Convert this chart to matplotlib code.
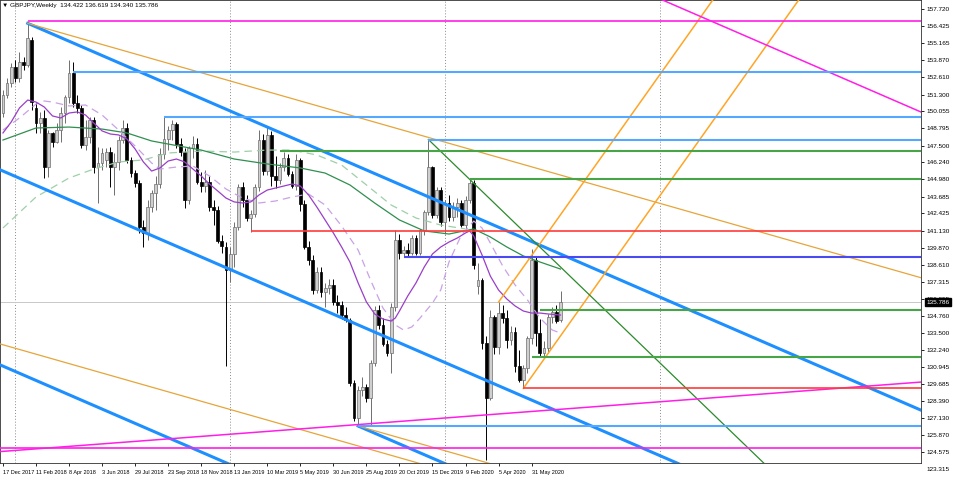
import matplotlib
matplotlib.use('Agg')
import matplotlib.pyplot as plt
from matplotlib.transforms import blended_transform_factory

plt.rcParams['font.family'] = ['Liberation Sans', 'DejaVu Sans']

# GBPJPY weekly candles, week 0 = 17 Dec 2017
opens = [149.92, 151.29, 152.16, 153.41, 152.54, 153.78, 153.53, 155.40, 150.29, 149.17,
         149.55, 145.93, 148.42, 147.80, 148.67, 149.92, 151.16, 152.91, 150.67, 150.29,
         147.55, 148.17, 149.42, 145.93, 146.18, 146.43, 147.05, 145.93, 146.30, 147.92,
         148.80, 146.43, 145.43, 144.68, 141.44, 140.94, 142.93, 143.93, 144.60, 146.90,
         148.00, 148.70, 149.10, 147.60, 147.00, 143.40, 147.30, 147.60, 144.80, 144.50,
         144.80, 142.90, 142.70, 140.40, 139.90, 138.20, 139.40, 141.40, 144.40, 143.40,
         142.10, 142.40, 144.40, 147.90, 145.60, 148.30, 145.20, 144.90, 145.90, 146.60,
         145.40, 144.50, 146.40, 143.10, 139.94, 138.94, 136.70, 138.07, 136.57, 136.82,
         137.07, 135.83, 135.58, 134.83, 134.46, 129.72, 127.10, 129.22, 129.47, 128.60,
         131.21, 135.20, 134.10, 132.70, 132.00, 135.45, 140.44, 139.44, 139.69, 139.44,
         140.56, 139.44, 141.19, 142.56, 145.92, 142.31, 144.18, 141.81, 143.18, 142.18,
         142.93, 143.18, 141.56, 143.43, 144.68, 137.00, 137.45, 132.71, 128.60, 134.70,
         132.46, 134.95, 134.58, 133.00, 133.58, 131.00, 130.00, 130.84, 133.08, 138.94,
         133.50, 131.96, 132.34, 134.70, 135.08, 134.422]
highs = [151.66, 152.54, 153.66, 153.91, 154.53, 154.16, 156.65, 155.65, 150.79, 150.04,
         150.17, 148.67, 148.55, 149.17, 150.42, 151.29, 153.91, 153.78, 151.29, 150.54,
         149.42, 149.67, 149.67, 147.42, 147.30, 147.30, 147.42, 146.92, 148.20, 149.42,
         149.17, 146.68, 145.68, 144.93, 141.94, 143.43, 144.20, 145.20, 147.30, 149.66,
         149.00, 149.40, 149.30, 148.10, 147.30, 147.50, 148.20, 148.10, 145.50, 145.70,
         145.20, 143.40, 143.00, 140.80, 140.30, 139.90, 141.80, 144.60, 144.80, 143.80,
         142.70, 144.60, 148.67, 148.40, 148.87, 148.60, 146.70, 146.20, 147.00, 146.90,
         145.60, 146.90, 146.60, 143.40, 140.40, 139.30, 138.40, 138.40, 137.20, 137.50,
         137.50, 136.30, 135.90, 135.40, 134.60, 130.00, 129.50, 130.20, 129.70, 131.50,
         135.50, 135.60, 134.60, 133.00, 135.70, 141.20, 140.90, 140.00, 140.20, 140.80,
         140.80, 141.30, 142.70, 147.96, 146.00, 144.40, 144.40, 143.40, 143.80, 143.30,
         143.60, 143.40, 143.70, 144.98, 144.90, 138.70, 137.60, 133.30, 135.20, 134.80,
         135.80, 135.60, 135.20, 134.00, 133.90, 132.20, 131.10, 133.30, 139.74, 139.20,
         134.50, 132.90, 134.90, 135.40, 135.60, 136.619]
lows = [149.67, 151.04, 151.91, 152.29, 152.29, 153.16, 153.41, 150.17, 148.42, 148.42,
        145.05, 145.18, 147.42, 147.67, 147.80, 149.17, 150.67, 150.42, 149.92, 147.30,
        147.17, 147.67, 145.43, 143.18, 145.68, 145.93, 144.43, 143.81, 145.68, 147.67,
        146.18, 145.18, 144.43, 140.94, 139.94, 140.44, 142.56, 142.70, 144.30, 146.50,
        147.20, 147.90, 147.30, 146.70, 142.80, 143.10, 146.60, 144.60, 144.00, 144.00,
        142.60, 141.60, 140.20, 139.50, 131.00, 137.30, 138.40, 141.20, 142.90, 141.90,
        141.06, 142.20, 144.10, 145.30, 145.30, 144.50, 144.30, 144.60, 145.60, 145.20,
        144.30, 144.20, 142.60, 139.80, 138.60, 136.40, 136.50, 136.20, 135.45, 136.40,
        135.60, 135.00, 134.50, 134.30, 129.50, 126.90, 126.48, 128.80, 128.30, 126.60,
        131.00, 133.80, 132.50, 131.80, 130.47, 135.10, 139.00, 139.20, 139.25, 139.30,
        139.30, 139.30, 140.80, 142.30, 142.10, 142.10, 141.50, 140.90, 141.90, 141.90,
        142.20, 141.40, 141.30, 143.20, 138.30, 136.40, 132.30, 123.98, 128.50, 131.90,
        131.90, 134.20, 132.40, 132.60, 130.60, 129.80, 129.35, 130.50, 132.70, 132.50,
        131.80, 131.71, 132.00, 134.20, 134.20, 134.340]
closes = [151.29, 152.16, 153.41, 152.54, 153.78, 153.53, 155.53, 150.79, 149.17, 149.55,
          145.93, 148.42, 147.80, 148.67, 149.92, 151.16, 152.91, 150.67, 150.29, 147.55,
          148.17, 149.42, 145.93, 146.18, 146.92, 147.05, 145.93, 146.30, 147.92, 148.80,
          146.43, 145.43, 144.68, 141.44, 140.94, 142.93, 143.93, 144.60, 146.90, 148.00,
          148.70, 149.10, 147.60, 147.00, 143.40, 147.30, 147.60, 144.80, 144.50, 144.80,
          142.90, 142.70, 140.40, 140.00, 138.20, 139.40, 141.40, 144.40, 143.40, 142.10,
          142.40, 144.40, 147.90, 145.60, 148.30, 145.20, 144.90, 145.90, 146.60, 145.40,
          144.50, 146.40, 143.10, 139.94, 138.94, 136.70, 138.07, 136.57, 136.82, 137.07,
          135.83, 135.58, 134.83, 134.46, 129.72, 127.10, 129.22, 129.47, 128.60, 131.21,
          135.20, 134.10, 132.70, 132.00, 135.45, 140.44, 139.44, 139.69, 139.44, 140.56,
          139.44, 141.19, 142.56, 145.92, 142.31, 144.18, 141.81, 143.18, 142.18, 142.93,
          143.18, 141.56, 143.43, 144.68, 138.57, 137.45, 132.71, 128.60, 134.70, 132.46,
          134.95, 134.58, 133.00, 133.58, 131.00, 130.00, 130.84, 133.08, 138.94, 133.50,
          131.96, 132.34, 134.70, 135.08, 134.42, 135.786]

# moving averages (week index -> price)
ma_fast_weeks = [0, 2, 4, 6, 8, 10, 12, 14, 16, 18, 20, 22, 24, 26, 28, 30, 32, 34, 36, 38,
                 40, 42, 44, 46, 48, 50, 52, 54, 56, 58, 60, 62, 64, 66, 68, 70, 72, 74, 76,
                 78, 80, 82, 84, 86, 88, 90, 92, 94, 95, 96, 98, 100, 102, 104, 106, 108,
                 110, 112, 113, 114, 116, 118, 120, 122, 124, 126, 128, 130, 132, 135]
ma_fast = [148.45, 149.27, 150.32, 150.91, 150.76, 150.39, 149.72, 149.57, 149.94, 150.02,
           149.79, 149.19, 148.60, 148.37, 148.30, 148.00, 147.25, 146.28, 145.60, 145.83,
           146.35, 146.50, 146.28, 145.75, 145.23, 144.63, 144.11, 143.58, 143.29, 143.21,
           143.29, 143.81, 144.18, 144.33, 144.48, 144.63, 144.48, 143.81, 142.91, 141.94,
           140.97, 139.92, 138.80, 137.23, 135.81, 134.91, 134.53, 134.38, 134.61, 135.13,
           136.25, 137.23, 138.42, 139.40, 139.92, 140.29, 140.59, 140.97, 141.12, 140.74,
           139.32, 137.75, 136.70, 136.03, 135.51, 135.13, 134.98, 134.98, 134.91, 134.83]
ma_mid_weeks = [0, 4, 8, 10, 12, 16, 20, 24, 28, 32, 36, 38, 42, 46, 50, 54, 58, 62, 66, 70,
                74, 78, 82, 86, 89, 92, 95, 97, 99, 101, 104, 106, 108, 111, 114, 116, 118,
                121, 124, 127, 130, 133, 135]
ma_mid = [148.67, 149.57, 150.61, 150.84, 150.76, 150.47, 150.54, 149.79, 148.67, 147.47,
          146.20, 145.75, 145.90, 145.98, 145.23, 144.26, 143.58, 143.21, 143.36, 143.66,
          143.88, 143.06, 141.49, 139.69, 137.45, 135.36, 134.09, 133.71, 133.94, 134.61,
          135.73, 136.70, 138.80, 140.82, 141.86, 141.34, 140.22, 138.50, 137.08, 135.96,
          134.61, 133.71, 133.49]
ma_slow_weeks = [0, 8, 16, 24, 30, 36, 40, 48, 56, 64, 72, 78, 84, 90, 96, 102, 108, 114,
                 118, 122, 126, 130, 135]
ma_slow = [147.92, 148.82, 148.89, 148.74, 148.45, 147.85, 147.62, 147.17, 146.50, 146.13,
           145.83, 145.45, 144.56, 143.21, 141.94, 141.12, 140.89, 141.27, 140.67, 139.92,
           139.25, 138.80, 138.27]
ma_long_weeks = [0, 8, 16, 22, 28, 34, 40, 48, 56, 64, 70, 76, 82, 88, 94, 100, 106, 112]
ma_long = [141.34, 143.66, 145.08, 145.75, 146.28, 146.43, 146.95, 147.10, 147.02, 147.17,
           147.17, 146.80, 146.05, 144.56, 143.06, 142.09, 141.56, 141.27]

# horizontal levels: price, first week
magenta_levels = [(156.79, 6), (124.85, -1)]
lightblue_levels = [(153.00, 17), (149.67, 39), (147.94, 103), (126.53, 86)]
green_levels = [(147.10, 67), (144.98, 113), (135.20, 130), (131.71, 128)]
red_levels = [(141.13, 60), (129.35, 126)]
blue_levels = [(139.20, 97)]

# trend lines: (week, price) -> (week, price)
blue_channel = [((6, 156.65), (222.4, 127.70)),
                ((-0.6, 145.68), (222.4, 115.84)),
                ((86, 126.53), (222.4, 108.28)),
                ((-0.6, 131.09), (222.4, 101.25))]
gold_lines = [((6, 156.65), (222.4, 137.61)),
              ((-0.6, 132.66), (222.4, 113.04)),
              ((86, 126.53), (222.4, 114.53))]
orange_rays = [((120, 135.80), (175, 159.76)),
               ((126, 129.35), (195, 159.41))]
green_trend = [((103, 147.96), (222.4, 112.38))]
magenta_lines = [((150, 159.69), (222.4, 150.00)),
                 ((-0.6, 124.62), (222.4, 129.82))]

year_starts = [3, 55, 107, 159]
price_ticks = [157.720, 156.425, 155.165, 153.870, 152.610, 151.300, 150.055, 148.795,
               147.500, 146.240, 144.980, 143.685, 142.425, 141.130, 139.870, 138.610,
               137.315, 136.055, 134.760, 133.500, 132.240, 130.945, 129.685, 128.390,
               127.130, 125.870, 124.575]
bottom_price_label = 123.315
date_weeks = [0, 8, 16, 24, 32, 40, 48, 56, 64, 72, 80, 88, 96, 104, 112, 120, 128]
date_labels = ['17 Dec 2017', '11 Feb 2018', '8 Apr 2018', '3 Jun 2018', '29 Jul 2018',
               '23 Sep 2018', '18 Nov 2018', '13 Jan 2019', '10 Mar 2019', '5 May 2019',
               '30 Jun 2019', '25 Aug 2019', '20 Oct 2019', '15 Dec 2019', '9 Feb 2020',
               '5 Apr 2020', '31 May 2020']
last_price = 135.786
header = 'GBPJPY,Weekly  134.422 136.619 134.340 135.786'


def draw_candles(ax):
    for i, (o, h, l, c) in enumerate(zip(opens, highs, lows, closes)):
        up = c >= o
        wick = '#6e6e6e' if up else '#000000'
        ax.vlines(i, l, h, color=wick, lw=0.7, zorder=2)
        ax.bar(i, max(abs(c - o), 0.06), bottom=min(o, c), width=0.68,
               color='#cfcfcf' if up else '#000000',
               edgecolor='#6e6e6e' if up else '#000000', lw=0.5, zorder=2)


def draw_levels(ax, levels, color, lw):
    for price, start in levels:
        ax.plot([start, 222.4], [price, price], color=color, lw=lw, zorder=4,
                solid_capstyle='butt')


def draw_lines(ax, lines, color, lw):
    for (x1, y1), (x2, y2) in lines:
        ax.plot([x1, x2], [y1, y2], color=color, lw=lw, zorder=4)


def main():
    fig = plt.figure(figsize=(9.6, 4.82), dpi=100)
    ax = fig.add_axes([0.0005, 19 / 482, 921 / 960, 463 / 482])
    ax.set_xlim(-0.6, 222.4)
    ax.set_ylim(123.764, 158.393)

    for w in year_starts:
        ax.axvline(w, color='#8a8a8a', lw=0.7, ls=(0, (1, 2)), zorder=1)
    ax.axhline(last_price, color='#c8c8c8', lw=0.7, zorder=1)

    draw_candles(ax)

    ax.plot(ma_long_weeks, ma_long, color='#9fcfa8', lw=0.9, ls=(0, (6, 4)), zorder=3)
    ax.plot(ma_slow_weeks, ma_slow, color='#2f8f4f', lw=0.9, zorder=3)
    ax.plot(ma_mid_weeks, ma_mid, color='#c9a2e6', lw=0.9, ls=(0, (6, 4)), zorder=3)
    ax.plot(ma_fast_weeks, ma_fast, color='#9a3fc8', lw=0.9, zorder=3)

    draw_lines(ax, blue_channel, '#1e8fff', 2.2)
    draw_lines(ax, gold_lines, '#e6a53a', 0.9)
    draw_lines(ax, orange_rays, '#ffa526', 1.1)
    draw_lines(ax, green_trend, '#2b8a2b', 0.9)
    draw_lines(ax, magenta_lines, '#ff1ee6', 1.1)
    draw_levels(ax, magenta_levels, '#ff1ee6', 1.2)
    draw_levels(ax, lightblue_levels, '#55a8ff', 1.5)
    draw_levels(ax, green_levels, '#47a447', 1.5)
    draw_levels(ax, red_levels, '#ff3b3b', 1.2)
    draw_levels(ax, blue_levels, '#4a4af0', 1.5)

    ax.yaxis.tick_right()
    ax.set_yticks(price_ticks)
    ax.set_yticklabels(['%.3f' % p for p in price_ticks])
    ax.set_xticks(date_weeks)
    ax.set_xticklabels(date_labels)
    for lab in ax.get_xticklabels():
        lab.set_ha('left')
    ax.tick_params(axis='y', labelsize=4.6, length=2.2, width=0.6, pad=1.5,
                   colors='black')
    ax.tick_params(axis='x', labelsize=4.0, length=2.2, width=0.6, pad=3.0,
                   colors='black')
    for s in ax.spines.values():
        s.set_color('#303030')
        s.set_linewidth(0.6)

    trans = blended_transform_factory(ax.transAxes, ax.transData)
    ax.annotate('%.3f' % bottom_price_label, xy=(1, bottom_price_label), xycoords=trans,
                xytext=(3.7, 0), textcoords='offset points', fontsize=4.6, va='center',
                annotation_clip=False)
    ax.annotate('%.3f' % last_price, xy=(1, last_price), xycoords=trans,
                xytext=(3.7, 0), textcoords='offset points', fontsize=4.6, va='center',
                color='white', annotation_clip=False, zorder=10,
                bbox=dict(boxstyle='square,pad=0.25', fc='black', ec='black'))

    fig.text(2 / 960, 1 - 6 / 482, '\u25bc ' + header, fontsize=4.6, va='center')

    plt.savefig('out.png', dpi=100)


if __name__ == '__main__':
    main()
